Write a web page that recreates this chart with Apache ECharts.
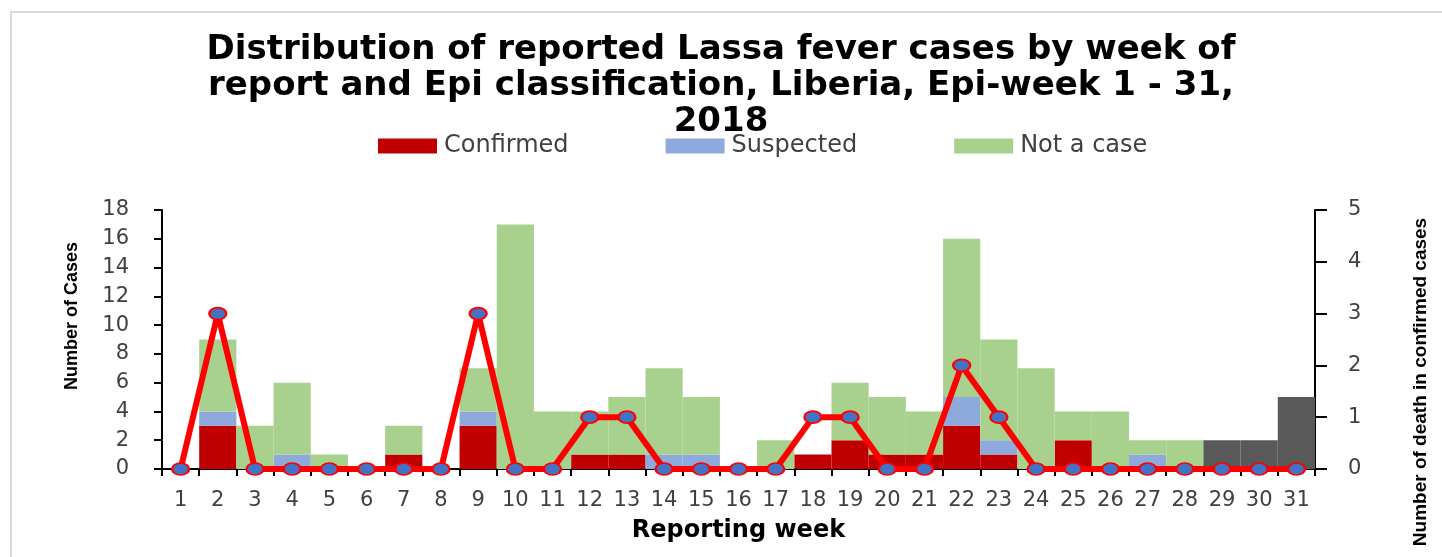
<!DOCTYPE html>
<html>
<head>
<meta charset="utf-8">
<script src="https://cdn.jsdelivr.net/npm/echarts@6/dist/echarts.min.js"></script>
<style>
  html, body { margin: 0; padding: 0; background: #fff; }
  #chart-container { width: 1442px; height: 557px; }
</style>
</head>
<body>
<div id="chart-container"></div>
<script>
const weeks = ["1","2","3","4","5","6","7","8","9","10","11","12","13","14","15","16","17","18","19","20","21","22","23","24","25","26","27","28","29","30","31"];
const confirmed = [0,3,0,0,0,0,1,0,3,0,0,1,1,0,0,0,0,1,2,1,1,3,1,0,2,0,0,0,0,0,0];
const suspected = [0,1,0,1,0,0,0,0,1,0,0,0,0,1,1,0,0,0,0,0,0,2,1,0,0,0,1,0,0,0,0];
const notACase  = [0,5,3,5,1,0,2,0,3,17,4,3,4,6,4,0,2,0,4,4,3,11,7,7,2,4,1,2,0,0,0];
const pending   = [0,0,0,0,0,0,0,0,0,0,0,0,0,0,0,0,0,0,0,0,0,0,0,0,0,0,0,0,2,2,5];
const deaths    = [0,3,0,0,0,0,0,0,3,0,0,1,1,0,0,0,0,1,1,0,0,2,1,0,0,0,0,0,0,0,0];

const tickFont = { fontFamily: "DejaVu Sans", fontSize: 21, color: "#404040" };
const axisLine = { show: true, lineStyle: { color: "#000", width: 2 } };

const barSeries = (name, data, color) => ({
  name: name,
  type: "bar",
  stack: "cases",
  data: data,
  barCategoryGap: "0%",
  itemStyle: { color: color },
  emphasis: { disabled: true },
});

const option = {
  animation: false,
  title: {
    text: "Distribution of reported Lassa fever cases by week of\nreport and Epi classification, Liberia, Epi-week 1 - 31,\n2018",
    left: "center",
    top: 27,
    textStyle: {
      fontFamily: "DejaVu Sans",
      fontWeight: "bold",
      fontSize: 34,
      lineHeight: 36,
      color: "#000",
    },
  },
  legend: {
    top: 129,
    left: 373,
    itemWidth: 59,
    itemHeight: 15,
    itemGap: 97,
    icon: "rect",
    data: ["Confirmed", "Suspected", "Not a case"],
    textStyle: { fontFamily: "DejaVu Sans", fontSize: 24, color: "#404040", padding: [0, 0, 0, 2] },
  },
  grid: {
    left: 162,
    right: 127,
    top: 210,
    bottom: 88,
  },
  xAxis: {
    type: "category",
    data: weeks,
    name: "Reporting week",
    nameLocation: "middle",
    nameGap: 50,
    nameTextStyle: { fontFamily: "DejaVu Sans", fontWeight: "bold", fontSize: 24, color: "#000" },
    axisLine: axisLine,
    axisTick: { show: true, length: 7, lineStyle: { color: "#000", width: 2 } },
    axisLabel: Object.assign({ margin: 21 }, tickFont),
  },
  yAxis: [
    {
      type: "value",
      min: 0,
      max: 18,
      interval: 2,
      axisLine: axisLine,
      axisTick: { show: true, length: 8, lineStyle: { color: "#000", width: 2 } },
      axisLabel: Object.assign({ margin: 33 }, tickFont),
      splitLine: { show: false },
    },
    {
      type: "value",
      min: 0,
      max: 5,
      interval: 1,
      position: "right",
      axisLine: axisLine,
      axisTick: { show: true, length: 12, lineStyle: { color: "#000", width: 2 } },
      axisLabel: Object.assign({ margin: 33, align: "left" }, tickFont),
      splitLine: { show: false },
    },
  ],
  graphic: [
    {
      type: "rect",
      shape: { x: 11, y: 12, width: 1500, height: 700 },
      style: { fill: "none", stroke: "#d9d9d9", lineWidth: 2 },
      silent: true,
    },
    {
      type: "text",
      x: 72,
      y: 316,
      rotation: Math.PI / 2,
      style: {
        text: "Number of Cases",
        fontFamily: "Liberation Sans",
        fontWeight: "bold",
        fontSize: 18,
        fill: "#000",
        textAlign: "center",
        textVerticalAlign: "middle",
      },
    },
    {
      type: "text",
      x: 1421,
      y: 382,
      rotation: Math.PI / 2,
      style: {
        text: "Number of death in confirmed cases",
        fontFamily: "Liberation Sans",
        fontWeight: "bold",
        fontSize: 19,
        fill: "#000",
        textAlign: "center",
        textVerticalAlign: "middle",
      },
    },
  ],
  series: [
    barSeries("Confirmed", confirmed, "#C00000"),
    barSeries("Suspected", suspected, "#8EA9DB"),
    barSeries("Not a case", notACase, "#A9D18E"),
    barSeries("Pending", pending, "#595959"),
    {
      name: "Deaths",
      type: "line",
      yAxisIndex: 1,
      data: deaths,
      z: 5,
      symbol: "circle",
      symbolSize: [17, 12],
      lineStyle: { color: "#FF0000", width: 6 },
      itemStyle: { color: "#4472C4", borderColor: "#FF0000", borderWidth: 2 },
      emphasis: { disabled: true },
    },
  ],
};

const dom = document.getElementById("chart-container");
const myChart = echarts.init(dom, null, { renderer: "canvas" });
myChart.setOption(option);
window.addEventListener("resize", () => myChart.resize());
</script>
</body>
</html>
